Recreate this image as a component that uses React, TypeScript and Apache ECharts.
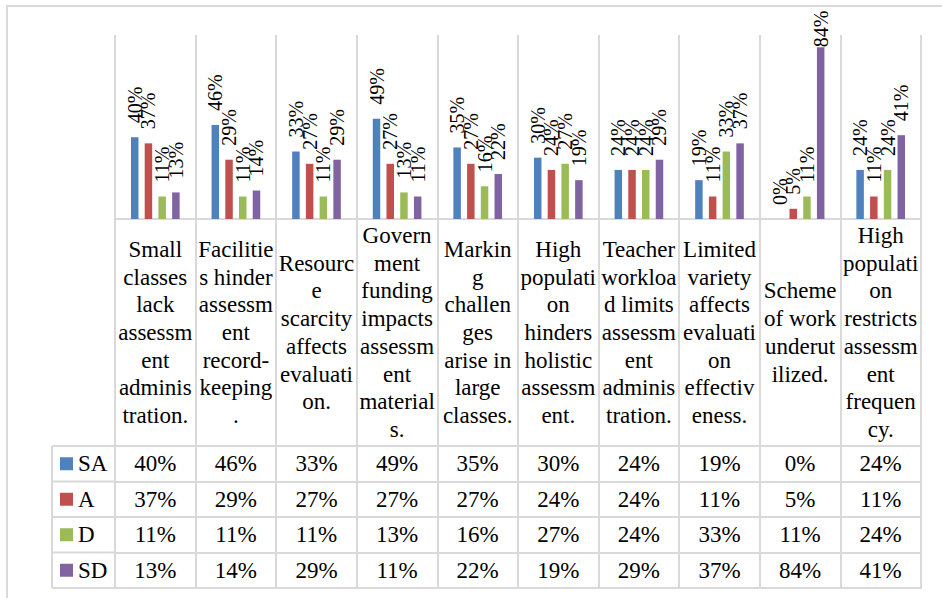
import React, { useEffect, useRef } from "react";
import * as echarts from "echarts";

const categories = [
  "Small\nclasses\nlack\nassessm\nent\nadminis\ntration.",
  "Facilitie\ns hinder\nassessm\nent\nrecord-\nkeeping\n.",
  "Resourc\ne\nscarcity\naffects\nevaluati\non.",
  "Govern\nment\nfunding\nimpacts\nassessm\nent\nmaterial\ns.",
  "Markin\ng\nchallen\nges\narise in\nlarge\nclasses.",
  "High\npopulati\non\nhinders\nholistic\nassessm\nent.",
  "Teacher\nworkloa\nd limits\nassessm\nent\nadminis\ntration.",
  "Limited\nvariety\naffects\nevaluati\non\neffectiv\neness.",
  "Scheme\nof work\nunderut\nilized.",
  "High\npopulati\non\nrestricts\nassessm\nent\nfrequen\ncy.",
];

const seriesNames = ["SA", "A", "D", "SD"];
const SA = [40, 46, 33, 49, 35, 30, 24, 19, 0, 24];
const A = [37, 29, 27, 27, 27, 24, 24, 11, 5, 11];
const D = [11, 11, 11, 13, 16, 27, 24, 33, 11, 24];
const SD = [13, 14, 29, 11, 22, 19, 29, 37, 84, 41];
const seriesValues = [SA, A, D, SD];
const colors = ["#4f81bd", "#c0504d", "#9bbb59", "#8064a2"];

const FONT = "Liberation Serif";
const GRID_COLOR = "#d9d9d9";
const lineStyle = { color: GRID_COLOR, width: 2 };

export default function App() {
  const ref = useRef<HTMLDivElement>(null);

  useEffect(() => {
    if (!ref.current) return;
    const chart = echarts.init(ref.current, undefined, { renderer: "svg" });

    const axisTop = 219;
    const headerH = 227;
    const rowH = 35.5;
    const rowOffsets = seriesValues.map((_, i) => headerH + i * rowH);

    const rowAxis = (vals: number[] | null, offset: number) => ({
      type: "category",
      data: categories,
      gridIndex: 0,
      position: "bottom",
      offset,
      axisLine: { show: true, lineStyle },
      axisTick: {
        show: vals !== null,
        length: rowH,
        interval: 0,
        alignWithLabel: false,
        lineStyle,
      },
      axisLabel: {
        show: vals !== null,
        interval: 0,
        margin: rowH / 2,
        verticalAlign: "middle",
        align: "center",
        fontFamily: FONT,
        fontSize: 23,
        color: "#000",
        formatter: (_v: string, i: number) => (vals ? vals[i] + "%" : ""),
      },
      splitLine: { show: false },
    });

    const leftX = 52;
    const gridLeft = 115;
    const graphics: any[] = [
      {
        type: "rect",
        shape: { x: 7, y: 6, width: 1000, height: 700 },
        style: { fill: "none", stroke: GRID_COLOR, lineWidth: 2 },
        silent: true,
      },
      {
        type: "line",
        shape: { x1: leftX, y1: axisTop + headerH, x2: leftX, y2: axisTop + headerH + 4 * rowH },
        style: { stroke: GRID_COLOR, lineWidth: 2 },
        silent: true,
      },
    ];
    for (let i = 0; i <= 4; i++) {
      const y = axisTop + headerH + i * rowH;
      graphics.push({
        type: "line",
        shape: { x1: leftX, y1: y, x2: gridLeft, y2: y },
        style: { stroke: GRID_COLOR, lineWidth: 2 },
        silent: true,
      });
    }

    const legends = seriesNames.map((n, i) => ({
      data: [n],
      orient: "horizontal",
      left: 60,
      top: axisTop + headerH + i * rowH + rowH / 2 - 12,
      itemWidth: 13,
      itemHeight: 13,
      icon: "rect",
      selectedMode: false,
      padding: 0,
      textStyle: { fontFamily: FONT, fontSize: 23, lineHeight: 24, color: "#000" },
    }));

    chart.setOption({
      animation: false,
      textStyle: { fontFamily: FONT },
      grid: { left: gridLeft, right: 21, top: 35, bottom: 598 - axisTop, containLabel: false },
      legend: legends,
      xAxis: [
        {
          type: "category",
          data: categories,
          position: "bottom",
          offset: 0,
          axisLine: { show: true, lineStyle },
          axisTick: { show: true, length: headerH, interval: 0, alignWithLabel: false, lineStyle },
          axisLabel: {
            interval: 0,
            margin: headerH / 2,
            verticalAlign: "middle",
            align: "center",
            fontFamily: FONT,
            fontSize: 23,
            lineHeight: 27.7,
            color: "#000",
          },
          splitLine: { show: true, interval: 0, lineStyle },
        },
        ...seriesValues.map((vals, i) => rowAxis(vals, rowOffsets[i])),
        rowAxis(null, headerH + 4 * rowH),
      ],
      yAxis: { type: "value", min: 0, max: 90, show: false },
      graphic: graphics,
      series: seriesValues.map((vals, si) => ({
        name: seriesNames[si],
        type: "bar",
        xAxisIndex: 0,
        data: vals.map((v) => (v > 80 ? { value: v, label: { distance: 0 } } : v)),
        barWidth: 7.5,
        barGap: "83%",
        itemStyle: { color: colors[si] },
        label: {
          show: true,
          position: "top",
          rotate: 90,
          align: "left",
          verticalAlign: "middle",
          distance: 14,
          fontFamily: FONT,
          fontSize: 20,
          color: "#000",
          formatter: "{c}%",
        },
      })),
    });

    return () => chart.dispose();
  }, []);

  return (
    <div
      ref={ref}
      style={{ position: "fixed", left: 0, top: 0, width: 942, height: 598, background: "#fff" }}
    />
  );
}
